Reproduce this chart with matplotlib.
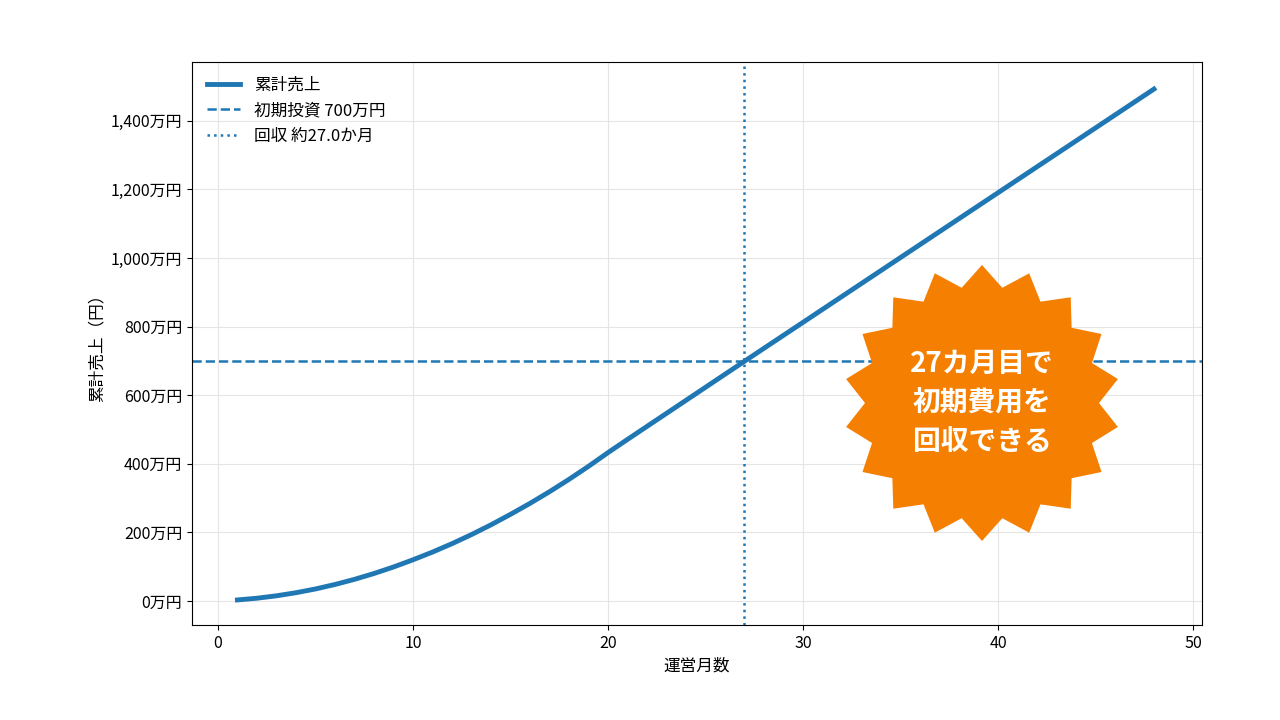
import numpy as np
import matplotlib
matplotlib.use('Agg')
from matplotlib import pyplot as plt
from matplotlib.patches import Polygon
from matplotlib.ticker import FuncFormatter

plt.rcParams['font.family'] = ['Noto Sans CJK JP', 'DejaVu Sans']

# monthly sales (万円), months 1..48
months = list(range(1, 49))
monthly_sales = [3, 5, 7, 9, 11, 13, 15, 17, 19, 21,
                 22.5, 24.5, 26.5, 28.5, 30.5, 32, 34, 36, 38, 40,
                 38.5, 38, 38, 38, 38, 38, 38, 37.8, 37.8, 37.8,
                 37.8, 37.8, 37.8, 37.8, 37.8, 37.8, 37.8, 37.8, 37.8, 37.8,
                 37.8, 37.8, 37.8, 37.8, 37.8, 37.8, 37.8, 37.8]
initial_cost = 700
payback_month = 27.0

cumulative = np.cumsum(monthly_sales)

fig = plt.figure(figsize=(12.8, 7.2), dpi=100)
ax = fig.add_axes([0.15, 0.132, 0.789, 0.782])
blue = '#1f77b4'
ax.plot(months, cumulative, color=blue, lw=3.5, label='累計売上')
ax.axhline(initial_cost, color=blue, ls='--', lw=1.8, label=f'初期投資 {initial_cost}万円')
ax.axvline(payback_month, color=blue, ls=':', lw=1.8, label=f'回収 約{payback_month:.1f}か月')
ax.set_xlim(-1.33, 50.46)
ax.set_ylim(-70, 1572)
ax.set_yticks(range(0, 1401, 200))
ax.yaxis.set_major_formatter(FuncFormatter(lambda v, p: f'{int(v):,}万円'))
ax.grid(True, color='#e5e5e5', lw=0.8)
ax.tick_params(labelsize=11.5)
ax.set_xlabel('運営月数', fontsize=12)
ax.set_ylabel('累計売上（円）', fontsize=12)
ax.legend(loc='upper left', frameon=False, fontsize=12)

# starburst badge (pixel coords -> figure coords)
cx, cy, r_out, r_in, n = 982, 403, 138, 117, 18
ang = np.linspace(0, 2 * np.pi, 2 * n, endpoint=False) + np.pi / 2
rad = np.where(np.arange(2 * n) % 2 == 0, r_out, r_in)
px = (cx + rad * np.cos(ang)) / 1280
py = (720 - (cy - rad * np.sin(ang))) / 720
fig.patches.append(Polygon(np.column_stack([px, py]), closed=True,
                           transform=fig.transFigure, facecolor='#f57f00',
                           edgecolor='none', zorder=5))
fig.text(cx / 1280, 1 - cy / 720, '27カ月目で\n初期費用を\n回収できる', color='white',
         fontsize=20, fontweight='bold', ha='center', va='center',
         linespacing=1.5, zorder=6)

fig.savefig('out.png', dpi=100)
